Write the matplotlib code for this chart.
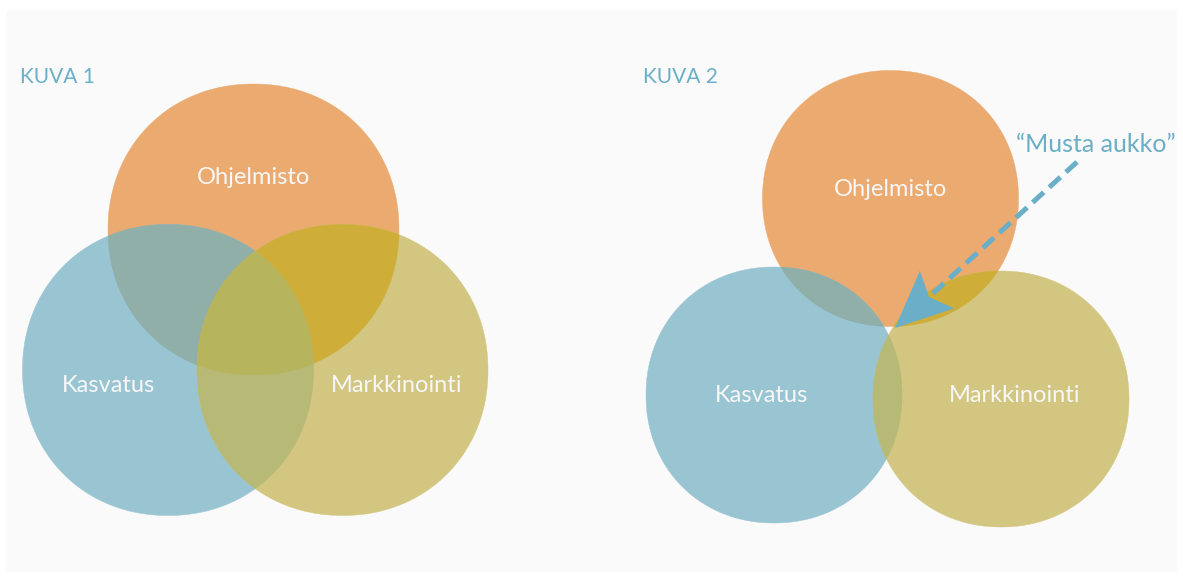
import numpy as np
import matplotlib.pyplot as plt
from matplotlib.patches import Polygon, Rectangle

# Venn-like diagrams: three soft "blobs" per picture
names = ['Ohjelmisto', 'Kasvatus', 'Markkinointi']
titles = ['KUVA 1', 'KUVA 2']
callout = '\u201cMusta aukko\u201d'

# blob centres and radii (pixel space of the picture)
kuva1_x = [253.5, 168.0, 342.5]
kuva1_y = [229.5, 370.0, 370.0]
kuva1_r = 145.5
kuva2_x = [890.5, 774.0, 1001.0]
kuva2_y = [198.5, 395.0, 399.0]
kuva2_r = 128.0

# label positions
kuva1_lx = [254, 109, 397]
kuva1_ly = [178, 385, 385]
kuva2_lx = [891, 762, 1015]
kuva2_ly = [189, 395, 395]
title_x = [20, 643]
title_y = [77, 77]

fills = ['#EBAA70', '#99C4D2', '#D2C680']
pair_fills = {(0, 1): '#8FAFA8', (0, 2): '#CEAE38', (1, 2): '#B7B976'}
triple_fill = '#B7B45E'
accent = '#6AAFC7'
EXP = 2.08   # superellipse exponent -> rounded, slightly square blobs


def outline(shape, k=1440):
    cx, cy, r = shape
    t = np.linspace(0, 2 * np.pi, k, endpoint=False)
    c, s = np.cos(t), np.sin(t)
    x = cx + r * np.sign(c) * np.abs(c) ** (2 / EXP)
    y = cy + r * np.sign(s) * np.abs(s) ** (2 / EXP)
    return x, y


def inside(x, y, shape):
    cx, cy, r = shape
    return np.abs((x - cx) / r) ** EXP + np.abs((y - cy) / r) ** EXP <= 1 + 1e-9


def overlap(shapes):
    # all blobs are convex, so the common part is convex too
    pts = []
    for i, s in enumerate(shapes):
        x, y = outline(s)
        m = np.ones_like(x, dtype=bool)
        for j, o in enumerate(shapes):
            if j != i:
                m &= inside(x, y, o)
        pts.append(np.column_stack([x[m], y[m]]))
    pts = np.vstack(pts)
    if len(pts) < 3:
        return None
    c = pts.mean(axis=0)
    ang = np.arctan2(pts[:, 1] - c[1], pts[:, 0] - c[0])
    return pts[np.argsort(ang)]


def draw_venn(ax, xs, ys, r):
    shapes = [(xs[i], ys[i], r) for i in range(3)]
    for i, s in enumerate(shapes):
        x, y = outline(s)
        ax.add_patch(Polygon(np.column_stack([x, y]), closed=True,
                             fc=fills[i], ec=fills[i], lw=0.3, zorder=2))
    for (i, j), col in pair_fills.items():
        poly = overlap([shapes[i], shapes[j]])
        if poly is not None:
            ax.add_patch(Polygon(poly, closed=True, fc=col, ec=col,
                                 lw=0.3, zorder=3))
    poly = overlap(shapes)
    if poly is not None:
        ax.add_patch(Polygon(poly, closed=True, fc=triple_fill,
                             ec=triple_fill, lw=0.3, zorder=4))


fig = plt.figure(figsize=(11.83, 5.76), dpi=100)
ax = fig.add_axes([0, 0, 1, 1])
ax.set_xlim(0, 1183)
ax.set_ylim(576, 0)
ax.axis('off')
ax.add_patch(Rectangle((6, 10), 1171, 562, fc='#FAFAFA', ec='none', zorder=0))

draw_venn(ax, kuva1_x, kuva1_y, kuva1_r)
draw_venn(ax, kuva2_x, kuva2_y, kuva2_r)

font = ['Lato', 'DejaVu Sans']
for i in range(3):
    ax.text(kuva1_lx[i], kuva1_ly[i], names[i], color='#F7F7F7', fontsize=17,
            family=font, ha='center', va='center', zorder=10)
    ax.text(kuva2_lx[i], kuva2_ly[i], names[i], color='#F7F7F7', fontsize=17,
            family=font, ha='center', va='center', zorder=10)
for i in range(2):
    ax.text(title_x[i], title_y[i], titles[i], color=accent, fontsize=15,
            family=font, ha='left', va='center', zorder=10)
ax.text(1096, 145, callout, color=accent, fontsize=18, family=font,
        ha='center', va='center', zorder=10)

# ── "Musta aukko" pointer: dashed shaft + notched head ──────────────────┐
tail = np.array([1077.0, 162.0])
tip = np.array([895.0, 328.0])
d = (tip - tail) / np.linalg.norm(tip - tail)
n = np.array([-d[1], d[0]])
head_len, head_half, notch = 57, 25.5, 46
base = tip - d * head_len
notch_pt = tip - d * notch
ax.plot([tail[0], notch_pt[0] - d[0] * 2], [tail[1], notch_pt[1] - d[1] * 2],
        color=accent, lw=3.6, dashes=(3.0, 1.5), solid_capstyle='butt',
        zorder=8)
head = np.array([tip, base + n * head_half, notch_pt, base - n * head_half])
ax.add_patch(Polygon(head, closed=True, fc=accent, ec='none', zorder=9))
# ─────────────────────────────────────────────────────────────────────────┘

fig.savefig('out.png', dpi=100, facecolor='white')
